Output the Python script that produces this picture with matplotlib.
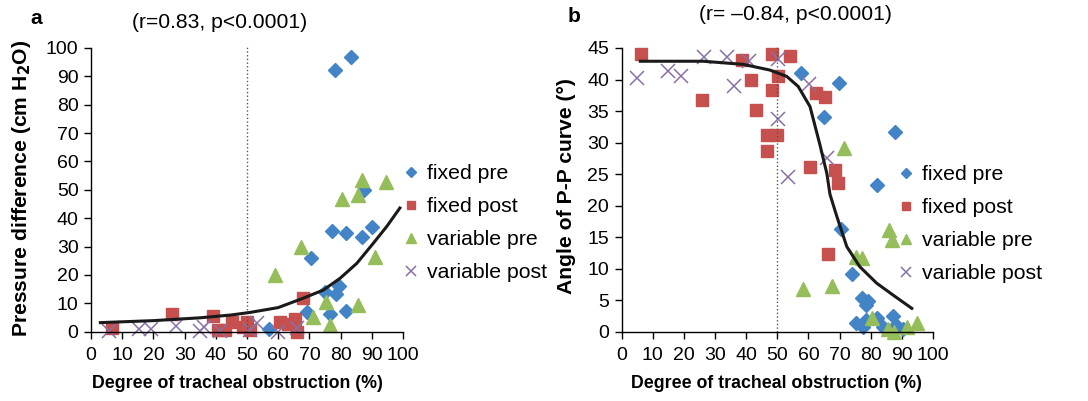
import matplotlib.pyplot as plt

plt.rcParams['font.family'] = ['Liberation Sans', 'DejaVu Sans']
plt.rcParams['font.size'] = 13

# ---- panel a: pressure difference vs degree of obstruction
fixed_pre_a_x = [78.2, 83.2, 87.5, 77.1, 81.7, 87.0, 90.2, 70.6, 75.0, 79.5, 78.6, 69.3, 76.6, 81.7, 57.0]
fixed_pre_a_y = [92.1, 96.7, 49.8, 35.5, 34.9, 33.5, 36.8, 26.1, 14.1, 16.2, 13.3, 6.8, 6.2, 7.4, 1.1]
fixed_post_a_x = [6.6, 26.0, 39.2, 40.8, 43.0, 45.3, 48.6, 49.9, 51.0, 60.6, 63.2, 65.4, 65.9, 68.0]
fixed_post_a_y = [1.2, 6.2, 5.6, 0.5, 0.5, 3.5, 1.8, 3.5, 0.6, 3.5, 2.7, 4.5, 0.0, 11.8]
var_pre_a_x = [87.0, 94.4, 80.5, 85.6, 67.3, 91.1, 59.0, 75.2, 85.7, 71.3, 76.6]
var_pre_a_y = [53.3, 52.6, 46.7, 48.3, 30.0, 26.5, 20.0, 10.6, 9.4, 5.1, 2.4]
var_post_a_x = [5.9, 15.5, 19.2, 27.2, 34.8, 36.3, 41.5, 51.0, 53.3, 60.0, 65.9]
var_post_a_y = [0.2, 0.8, 0.9, 2.1, 0.3, 1.5, 0.2, 0.6, 2.9, 0.0, 1.2]
trend_a_x = [3, 20, 35, 45, 51, 60, 68, 74.5, 79.8, 85.2, 90.5, 94.8, 99]
trend_a_y = [3.2, 3.9, 4.9, 5.9, 6.8, 8.5, 11.8, 14.7, 18.8, 24.1, 31.2, 37.1, 43.6]

# ---- panel b: angle of P-P curve vs degree of obstruction
fixed_pre_b_x = [57.5, 69.9, 65.0, 87.8, 82.1, 70.4, 74.1, 77.1, 79.0, 78.5, 75.3, 77.6, 78.5, 82.1, 83.8, 87.2, 88.1, 90.5]
fixed_pre_b_y = [41.1, 39.4, 34.0, 31.6, 23.2, 16.3, 9.2, 5.3, 4.9, 4.2, 1.4, 0.8, 1.9, 2.1, 0.8, 2.5, 1.1, 0.4]
fixed_post_b_x = [6.1, 25.7, 38.7, 41.4, 43.0, 48.2, 48.2, 46.6, 49.8, 46.6, 50.3, 54.1, 60.5, 62.3, 65.3, 68.5, 69.6, 66.4]
fixed_post_b_y = [44.0, 36.8, 43.1, 40.0, 35.2, 38.4, 44.0, 31.2, 31.2, 28.7, 40.6, 43.7, 26.2, 37.9, 37.3, 25.7, 23.65, 12.4]
var_pre_b_x = [71.4, 85.9, 86.9, 75.3, 77.1, 58.3, 67.5, 80.5, 85.6, 87.5, 91.7, 94.8]
var_pre_b_y = [29.2, 16.1, 14.6, 11.9, 11.75, 6.7, 7.25, 2.1, 0.5, 0.0, 0.8, 1.4]
var_post_b_x = [4.8, 15.0, 19.0, 26.5, 33.7, 36.2, 41.0, 50.3, 50.3, 53.5, 60.2, 66.0]
var_post_b_y = [40.3, 41.4, 40.5, 43.5, 43.5, 39.05, 42.9, 43.3, 33.8, 24.6, 39.3, 27.6]
trend_b_x = [6, 26.2, 39.1, 47.6, 53, 56.7, 60.5, 63.7, 65.9, 66.9, 69.1, 72.3, 76.5, 81.9, 87.2, 93.2]
trend_b_y = [42.9, 42.9, 42.4, 41.5, 40.5, 38.9, 35.7, 29.6, 25.1, 21.8, 18.3, 13.5, 10.3, 7.7, 5.8, 3.7]

labels = ['fixed pre', 'fixed post', 'variable pre', 'variable post']
colors = ['#4284C6', '#C5504D', '#95BD5A', '#8A70A8']

W, H = 1088, 401
fig = plt.figure(figsize=(W / 100, H / 100), dpi=100)


def draw(rect, series, trend, ylim, yticks, legend_xy):
    ax = fig.add_axes(rect)
    styles = [dict(marker='D', ms=7.5), dict(marker='s', ms=9),
              dict(marker='^', ms=10), dict(marker='x', ms=9.5, mew=1.1)]
    for (sx, sy), st, c, lab in zip(series, styles, colors, labels):
        ax.plot(sx, sy, ls='none', color=c, label=lab, clip_on=False, **st)
    ax.plot(trend[0], trend[1], color='#1a1a1a', lw=2.2, zorder=5)
    ax.axvline(50, ymin=0, ymax=1.01, color='#555555', ls=':', lw=1.0, clip_on=False)
    ax.set_xlim(0, 100)
    ax.set_ylim(*ylim)
    ax.set_xticks(range(0, 101, 10))
    ax.set_yticks(yticks)
    for s in ['top', 'right']:
        ax.spines[s].set_visible(False)
    for s in ['left', 'bottom']:
        ax.spines[s].set_linewidth(1.0)
    ax.tick_params(direction='out', length=5, width=1.0, labelsize=14)
    ax.tick_params(axis='x', pad=6)
    ax.tick_params(axis='y', pad=4)
    ax.legend(loc='upper left', bbox_to_anchor=(legend_xy[0] / W, 1 - legend_xy[1] / H),
              bbox_transform=fig.transFigure, frameon=False, markerscale=0.7,
              handlelength=1.0, handletextpad=0.25, labelspacing=0.66,
              borderpad=0, borderaxespad=0, fontsize=15.3)
    return ax


bot = 1 - 331.7 / H
hgt = (331.7 - 48) / H
draw([91 / W, bot, 312 / W, hgt],
     [(fixed_pre_a_x, fixed_pre_a_y), (fixed_post_a_x, fixed_post_a_y),
      (var_pre_a_x, var_pre_a_y), (var_post_a_x, var_post_a_y)],
     (trend_a_x, trend_a_y), (0, 100), range(0, 101, 10), (400, 164))
draw([621.7 / W, bot, 311.3 / W, hgt],
     [(fixed_pre_b_x, fixed_pre_b_y), (fixed_post_b_x, fixed_post_b_y),
      (var_pre_b_x, var_pre_b_y), (var_post_b_x, var_post_b_y)],
     (trend_b_x, trend_b_y), (0, 45), range(0, 46, 5), (895, 165))

# labels and annotations
fig.text(36 / W, 1 - 19 / H, 'a', fontsize=15, fontweight='bold', ha='center', va='center')
fig.text(574 / W, 1 - 17 / H, 'b', fontsize=15, fontweight='bold', ha='center', va='center')
fig.text(220 / W, 1 - 23 / H, '(r=0.83, p<0.0001)', fontsize=15.2, ha='center', va='center')
fig.text(795 / W, 1 - 15 / H, '(r= \u20130.84, p<0.0001)', fontsize=15.2, ha='center', va='center')
fig.text(237 / W, 1 - 384 / H, 'Degree of tracheal obstruction (%)', fontsize=12.8,
         fontweight='bold', ha='center', va='center')
fig.text(776 / W, 1 - 384 / H, 'Degree of tracheal obstruction (%)', fontsize=12.8,
         fontweight='bold', ha='center', va='center')
fig.text(22 / W, 1 - 188 / H, 'Pressure difference (cm H$_\\mathbf{2}$O)', fontsize=15.2,
         fontweight='bold', rotation=90, ha='center', va='center')
fig.text(567 / W, 1 - 186 / H, 'Angle of P-P curve (\u00b0)', fontsize=15.2,
         fontweight='bold', rotation=90, ha='center', va='center')

fig.savefig('out.png', dpi=100)
